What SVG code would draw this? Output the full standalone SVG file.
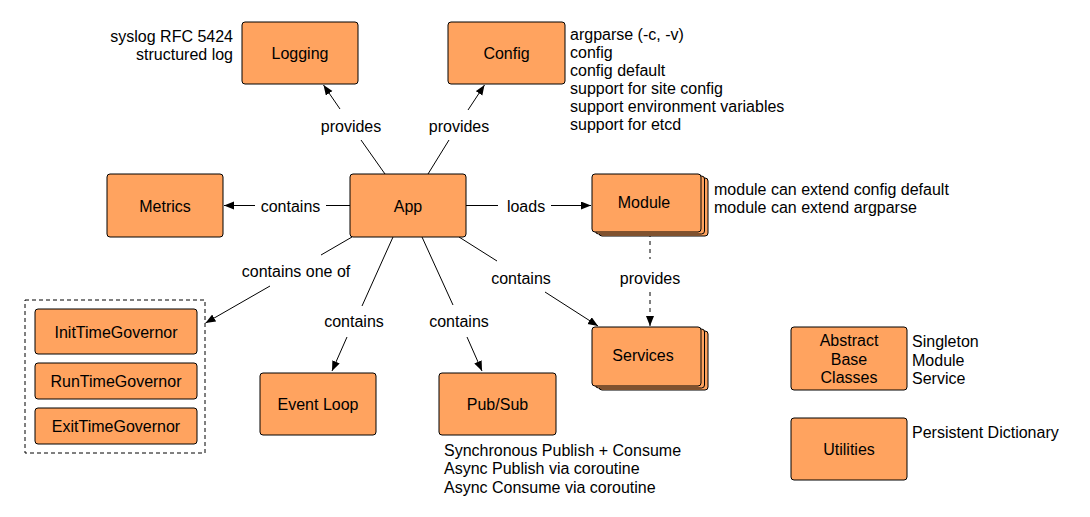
<svg xmlns="http://www.w3.org/2000/svg" width="1090" height="517" viewBox="0 0 1090 517">
<defs>
<style>
.n{fill:#FFA35F;stroke:#000;stroke-width:1}
.t{font-family:"Liberation Sans",Arial,Helvetica,sans-serif;font-size:16px;fill:#000}
.c{text-anchor:middle}
.e{text-anchor:end}
.l{stroke:#000;stroke-width:1;fill:none}
.d{stroke-dasharray:4 4}
</style>
<marker id="ah" markerUnits="userSpaceOnUse" markerWidth="12" markerHeight="10" refX="10" refY="4" orient="auto">
<path d="M0,0 L10,4 L0,8 Z" fill="#000"/>
</marker>
</defs>
<rect width="1090" height="517" fill="#fff"/>

<g id="connectors">
<line class="l" x1="385" y1="174" x2="361" y2="140"/>
<line class="l" x1="340" y1="109" x2="323.5" y2="85" marker-end="url(#ah)"/>
<text class="t c" x="351" y="132">provides</text>
<line class="l" x1="428" y1="174" x2="449" y2="140"/>
<line class="l" x1="468" y1="110" x2="484.5" y2="85" marker-end="url(#ah)"/>
<text class="t c" x="459" y="132">provides</text>
<line class="l" x1="350" y1="205.5" x2="326" y2="205.5"/>
<line class="l" x1="255" y1="205.5" x2="224" y2="205.5" marker-end="url(#ah)"/>
<text class="t c" x="290.5" y="212">contains</text>
<line class="l" x1="466" y1="205.5" x2="498" y2="205.5"/>
<line class="l" x1="551" y1="205.5" x2="591" y2="205.5" marker-end="url(#ah)"/>
<text class="t c" x="526" y="212">loads</text>
<line class="l" x1="352" y1="237" x2="321" y2="255"/>
<line class="l" x1="270" y1="286" x2="205.5" y2="323" marker-end="url(#ah)"/>
<text class="t c" x="296" y="277">contains one of</text>
<line class="l" x1="393" y1="237" x2="362" y2="306"/>
<line class="l" x1="347" y1="337" x2="332" y2="371" marker-end="url(#ah)"/>
<text class="t c" x="354" y="327">contains</text>
<line class="l" x1="422" y1="237" x2="453" y2="305"/>
<line class="l" x1="467" y1="337" x2="482" y2="371" marker-end="url(#ah)"/>
<text class="t c" x="459" y="327">contains</text>
<line class="l" x1="459" y1="237" x2="497" y2="261"/>
<line class="l" x1="545" y1="292" x2="598" y2="326" marker-end="url(#ah)"/>
<text class="t c" x="521" y="284">contains</text>
<line class="l d" x1="650" y1="233" x2="650" y2="259"/>
<line class="l d" x1="650" y1="292" x2="650" y2="326" marker-end="url(#ah)"/>
<text class="t c" x="650" y="283.5">provides</text>
</g>

<g id="logging">
<rect class="n" x="242" y="22" width="116" height="62" rx="3"/>
<text class="t c" x="300" y="59">Logging</text>
<text class="t e" x="233" y="42">syslog RFC 5424</text>
<text class="t e" x="233" y="60">structured log</text>
</g>

<g id="config">
<rect class="n" x="448" y="22" width="117" height="62" rx="3"/>
<text class="t c" x="506.5" y="59">Config</text>
<text class="t" x="570" y="39.5">argparse (-c, -v)</text>
<text class="t" x="570" y="57.5">config</text>
<text class="t" x="570" y="75.5">config default</text>
<text class="t" x="570" y="93.5">support for site config</text>
<text class="t" x="570" y="111.5">support environment variables</text>
<text class="t" x="570" y="129.5">support for etcd</text>
</g>

<g id="metrics">
<rect class="n" x="107" y="174" width="116" height="63" rx="3"/>
<text class="t c" x="165" y="212">Metrics</text>
</g>

<g id="app">
<rect class="n" x="350" y="174" width="116" height="63" rx="3"/>
<text class="t c" x="408" y="212">App</text>
</g>

<g id="module">
<rect class="n" x="599" y="178" width="109" height="58" rx="3"/>
<rect class="n" x="595.5" y="176" width="109" height="58" rx="3"/>
<rect class="n" x="592" y="174" width="109" height="58" rx="3"/>
<text class="t c" x="644" y="208">Module</text>
<text class="t" x="714" y="194.5">module can extend config default</text>
<text class="t" x="714" y="212.5">module can extend argparse</text>
</g>

<g id="services">
<rect class="n" x="599" y="331" width="109" height="59" rx="3"/>
<rect class="n" x="595.5" y="329" width="109" height="59" rx="3"/>
<rect class="n" x="592" y="327" width="109" height="59" rx="3"/>
<text class="t c" x="643" y="361">Services</text>
</g>

<g id="governors">
<rect x="25" y="300" width="180" height="153" fill="none" stroke="#000" stroke-width="1" stroke-dasharray="4 3"/>
<g id="init-time-governor">
<rect class="n" x="35" y="309" width="162" height="45" rx="3"/>
<text class="t c" x="116" y="338">InitTimeGovernor</text>
</g>
<g id="run-time-governor">
<rect class="n" x="35" y="363" width="162" height="36" rx="3"/>
<text class="t c" x="116" y="386.5">RunTimeGovernor</text>
</g>
<g id="exit-time-governor">
<rect class="n" x="35" y="408" width="162" height="36" rx="3"/>
<text class="t c" x="116" y="431.5">ExitTimeGovernor</text>
</g>
</g>

<g id="event-loop">
<rect class="n" x="260" y="373" width="116" height="62" rx="3"/>
<text class="t c" x="318" y="410">Event Loop</text>
</g>

<g id="pubsub">
<rect class="n" x="439" y="373" width="117" height="62" rx="3"/>
<text class="t c" x="497.5" y="410">Pub/Sub</text>
<text class="t" x="444" y="456">Synchronous Publish + Consume</text>
<text class="t" x="444" y="474">Async Publish via coroutine</text>
<text class="t" x="444" y="492.5">Async Consume via coroutine</text>
</g>

<g id="abstract-base-classes">
<rect class="n" x="791" y="327" width="116" height="63" rx="3"/>
<text class="t c" x="849" y="346">Abstract</text>
<text class="t c" x="849" y="364.5">Base</text>
<text class="t c" x="849" y="382.5">Classes</text>
<text class="t" x="912" y="347">Singleton</text>
<text class="t" x="912" y="365.5">Module</text>
<text class="t" x="912" y="384">Service</text>
</g>

<g id="utilities">
<rect class="n" x="791" y="418" width="116" height="62" rx="3"/>
<text class="t c" x="849" y="455">Utilities</text>
<text class="t" x="912" y="437.5">Persistent Dictionary</text>
</g>
</svg>
